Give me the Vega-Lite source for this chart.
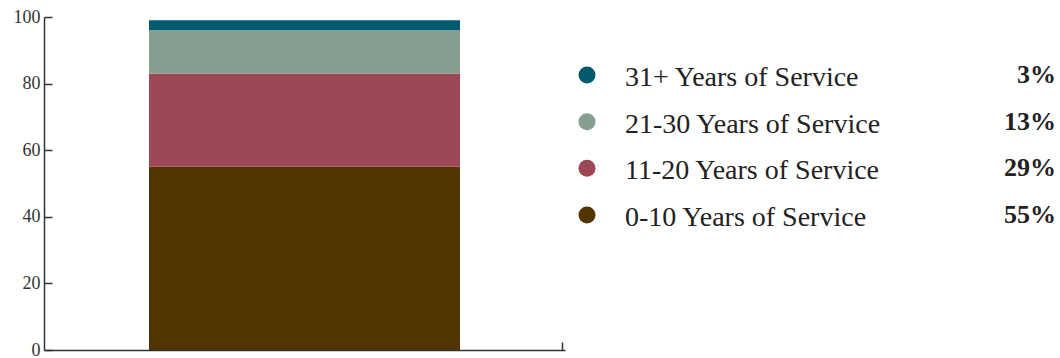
{
  "$schema": "https://vega.github.io/schema/vega-lite/v6.json",
  "padding": {"left": 13, "top": 8, "right": 0, "bottom": 0},
  "background": "white",
  "spacing": 13,
  "config": {"view": {"stroke": null}, "font": "Liberation Serif"},
  "datasets": {
    "service": [
      {"group": "0-10 Years of Service", "value": 55, "pct": "55%", "order": 1},
      {"group": "11-20 Years of Service", "value": 28, "pct": "29%", "order": 2},
      {"group": "21-30 Years of Service", "value": 13, "pct": "13%", "order": 3},
      {"group": "31+ Years of Service", "value": 3, "pct": "3%", "order": 4}
    ]
  },
  "hconcat": [
    {
      "width": 521,
      "height": 333,
      "data": {"name": "service"},
      "mark": {"type": "bar"},
      "encoding": {
        "x": {
          "datum": "All",
          "type": "nominal",
          "scale": {"paddingInner": 0, "paddingOuter": 0.3376},
          "axis": {
            "title": null,
            "labels": false,
            "domainColor": "#333333",
            "domainWidth": 1.5,
            "tickColor": "#333333",
            "tickWidth": 1.5,
            "tickSize": -8,
            "bandPosition": 1.328
          }
        },
        "y": {
          "field": "value",
          "type": "quantitative",
          "stack": "zero",
          "scale": {"domain": [0, 100]},
          "axis": {
            "title": null,
            "values": [0, 20, 40, 60, 80, 100],
            "grid": false,
            "domainColor": "#333333",
            "domainWidth": 1.5,
            "tickColor": "#333333",
            "tickWidth": 1.5,
            "tickSize": -8,
            "labelPadding": 12,
            "labelFont": "Liberation Serif",
            "labelFontSize": 18,
            "labelColor": "#333333"
          }
        },
        "order": {"field": "order", "type": "quantitative"},
        "color": {
          "field": "group",
          "type": "nominal",
          "scale": {
            "domain": ["0-10 Years of Service", "11-20 Years of Service", "21-30 Years of Service", "31+ Years of Service"],
            "range": ["#523400", "#9c4856", "#869f91", "#025a6e"]
          },
          "legend": null
        }
      }
    },
    {
      "width": 469,
      "height": 333,
      "data": {"name": "service"},
      "encoding": {
        "y": {
          "field": "group",
          "type": "nominal",
          "sort": ["31+ Years of Service", "21-30 Years of Service", "11-20 Years of Service", "0-10 Years of Service"],
          "scale": {"range": [58, 198], "padding": 0},
          "axis": null
        }
      },
      "layer": [
        {
          "mark": {"type": "circle", "size": 290, "opacity": 1},
          "encoding": {
            "x": {"datum": 0, "type": "quantitative", "scale": {"domain": [0, 1]}, "axis": null},
            "color": {
              "field": "group",
              "type": "nominal",
              "scale": {
                "domain": ["0-10 Years of Service", "11-20 Years of Service", "21-30 Years of Service", "31+ Years of Service"],
                "range": ["#523400", "#9c4856", "#869f91", "#025a6e"]
              },
              "legend": null
            }
          }
        },
        {
          "mark": {"type": "text", "align": "left", "baseline": "middle", "dx": 38, "dy": 3, "fontSize": 28, "font": "Liberation Serif", "fill": "#222222"},
          "encoding": {
            "x": {"datum": 0, "type": "quantitative"},
            "text": {"field": "group"}
          }
        },
        {
          "mark": {"type": "text", "align": "right", "baseline": "middle", "fontSize": 26, "fontWeight": "bold", "font": "Liberation Serif", "fill": "#222222"},
          "encoding": {
            "x": {"datum": 1, "type": "quantitative"},
            "text": {"field": "pct"}
          }
        }
      ]
    }
  ]
}
